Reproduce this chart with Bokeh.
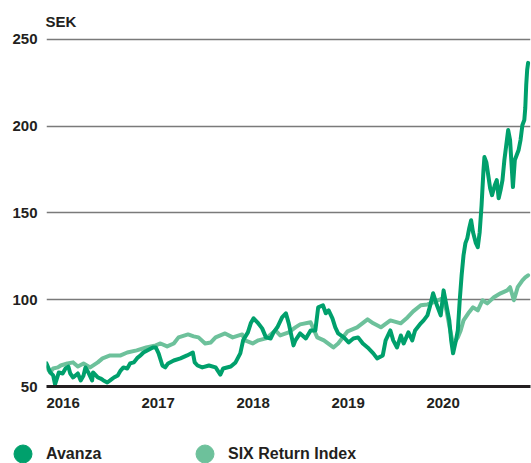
from bokeh.plotting import figure
from bokeh.models import Range1d, FixedTicker, Legend, LegendItem, Title
from bokeh.embed import file_html
from bokeh.resources import INLINE

# ---- data (decimal year, SEK) ----
avanza = [
    (2016.00, 63.3), (2016.04, 58.1), (2016.07, 56.4), (2016.09, 51.2), (2016.13, 58.1),
    (2016.17, 57.5), (2016.20, 60.4), (2016.23, 61.5), (2016.25, 57.5), (2016.28, 55.2),
    (2016.33, 57.5), (2016.36, 53.5), (2016.39, 56.4), (2016.41, 61.0), (2016.44, 58.1),
    (2016.48, 53.5), (2016.49, 58.1), (2016.54, 55.2), (2016.57, 54.6), (2016.60, 53.5),
    (2016.64, 52.3), (2016.67, 53.5), (2016.71, 55.2), (2016.75, 56.4), (2016.78, 59.2),
    (2016.81, 61.0), (2016.85, 60.4), (2016.88, 63.3), (2016.92, 63.9), (2016.96, 66.7),
    (2016.99, 67.9), (2017.02, 69.6), (2017.06, 70.8), (2017.12, 72.5), (2017.15, 72.5),
    (2017.18, 69.1), (2017.22, 62.1), (2017.25, 61.0), (2017.28, 63.3), (2017.34, 65.0),
    (2017.41, 66.2), (2017.48, 67.9), (2017.54, 69.6), (2017.56, 63.9), (2017.59, 62.1),
    (2017.64, 61.0), (2017.71, 62.1), (2017.78, 61.0), (2017.83, 56.9), (2017.86, 60.4),
    (2017.94, 61.5), (2017.99, 63.9), (2018.04, 69.1), (2018.07, 76.6), (2018.12, 81.2),
    (2018.15, 86.4), (2018.18, 89.3), (2018.22, 87.0), (2018.27, 83.5), (2018.31, 78.3),
    (2018.36, 77.7), (2018.39, 81.2), (2018.43, 84.1), (2018.48, 89.8), (2018.52, 92.2),
    (2018.55, 86.4), (2018.60, 73.7), (2018.62, 76.6), (2018.67, 80.6), (2018.73, 77.7),
    (2018.78, 82.3), (2018.83, 82.3), (2018.86, 95.6), (2018.91, 96.8), (2018.94, 92.2),
    (2018.97, 93.9), (2019.01, 89.3), (2019.04, 84.1), (2019.07, 80.6), (2019.13, 78.3),
    (2019.18, 75.4), (2019.23, 77.7), (2019.28, 78.3), (2019.33, 74.8), (2019.38, 72.5),
    (2019.44, 69.1), (2019.48, 66.2), (2019.54, 67.9), (2019.57, 76.6), (2019.62, 82.3),
    (2019.65, 76.6), (2019.69, 72.5), (2019.73, 79.4), (2019.76, 74.8), (2019.81, 81.2),
    (2019.85, 76.6), (2019.88, 82.3), (2019.94, 86.4), (2019.97, 88.1), (2020.01, 91.0),
    (2020.04, 96.8), (2020.07, 103.7), (2020.11, 96.8), (2020.15, 91.0), (2020.18, 105.4),
    (2020.21, 96.8), (2020.24, 88.1), (2020.26, 76.6), (2020.28, 69.1), (2020.31, 76.6),
    (2020.33, 82.3), (2020.35, 99.7), (2020.37, 114.1), (2020.39, 125.6), (2020.41, 132.6),
    (2020.43, 135.5), (2020.45, 141.2), (2020.47, 145.8), (2020.49, 138.9), (2020.52, 132.6),
    (2020.54, 130.3), (2020.56, 138.9), (2020.58, 154.5), (2020.60, 174.7), (2020.61, 182.2),
    (2020.63, 179.3), (2020.65, 171.8), (2020.67, 164.3), (2020.69, 160.3), (2020.72, 166.1),
    (2020.74, 168.9), (2020.76, 158.5), (2020.78, 163.2), (2020.80, 168.9), (2020.82, 180.5),
    (2020.84, 189.2), (2020.86, 197.8), (2020.88, 192.0), (2020.91, 164.9), (2020.93, 180.5),
    (2020.95, 183.4), (2020.97, 186.3), (2020.99, 192.0), (2021.01, 200.7), (2021.03, 203.6),
    (2021.04, 210.5), (2021.05, 223.8), (2021.06, 232.5), (2021.07, 236.5),
]

six_return = [
    (2016.00, 61.0), (2016.04, 58.1), (2016.07, 60.4), (2016.12, 61.0), (2016.15, 62.1),
    (2016.22, 63.3), (2016.28, 63.9), (2016.33, 61.5), (2016.39, 63.3), (2016.46, 61.0),
    (2016.54, 63.9), (2016.59, 66.2), (2016.67, 67.9), (2016.78, 67.9), (2016.85, 69.6),
    (2016.95, 70.8), (2017.05, 72.5), (2017.15, 73.7), (2017.20, 74.8), (2017.27, 73.1),
    (2017.34, 74.8), (2017.39, 78.3), (2017.49, 80.0), (2017.55, 78.9), (2017.60, 78.3),
    (2017.67, 74.8), (2017.73, 75.4), (2017.78, 78.3), (2017.88, 80.6), (2017.96, 78.3),
    (2018.06, 80.0), (2018.09, 76.6), (2018.17, 74.8), (2018.23, 76.6), (2018.31, 77.7),
    (2018.41, 82.3), (2018.46, 79.4), (2018.55, 81.2), (2018.62, 84.1), (2018.67, 85.8),
    (2018.78, 87.0), (2018.85, 78.3), (2018.92, 76.6), (2019.02, 72.5), (2019.07, 74.8),
    (2019.17, 81.8), (2019.27, 84.1), (2019.38, 88.7), (2019.44, 86.4), (2019.52, 84.1),
    (2019.62, 88.1), (2019.73, 86.4), (2019.80, 89.8), (2019.86, 93.3), (2019.94, 96.8),
    (2020.01, 97.3), (2020.07, 98.5), (2020.17, 100.8), (2020.21, 93.9), (2020.25, 82.3),
    (2020.28, 74.2), (2020.31, 76.6), (2020.33, 78.3), (2020.36, 82.3), (2020.39, 88.1),
    (2020.44, 92.2), (2020.49, 95.6), (2020.54, 93.9), (2020.59, 99.7), (2020.64, 97.9),
    (2020.71, 101.4), (2020.78, 103.7), (2020.85, 105.4), (2020.88, 107.2), (2020.92, 99.7),
    (2020.96, 107.2), (2021.01, 111.2), (2021.04, 112.9), (2021.07, 114.1),
]

years = [2016, 2017, 2018, 2019, 2020]
year_labels = ["2016", "2017", "2018", "2019", "2020"]
value_ticks = [50, 100, 150, 200, 250]
grid_ticks = [100, 150, 200, 250]
series_names = ["Avanza", "SIX Return Index"]
unit_label = "SEK"

DARK = "#00a06c"
LIGHT = "#6dc19b"
TXT = "#231f20"
FONT = "Liberation Sans"
LABEL_SHIFT = 0.175  # year labels are set flush-left at the start of each year

p = figure(width=531, height=415, output_backend="svg", toolbar_location=None,
           x_range=Range1d(2016.0, 2021.095), y_range=Range1d(50, 254),
           min_border_left=46, min_border_right=1, min_border_top=32,
           min_border_bottom=29, outline_line_color=None, background_fill_color="white",
           border_fill_color="white")

t = Title(text=unit_label, text_font=FONT, text_font_size="15px", text_font_style="bold",
          text_color=TXT, align="left", standoff=6, offset=-1)
p.add_layout(t, "above")

ax, av = zip(*avanza)
sx, sv = zip(*six_return)
p.line(list(sx), list(sv), line_color=LIGHT, line_width=4, line_join="round", line_cap="round")
p.line(list(ax), list(av), line_color=DARK, line_width=4, line_join="round", line_cap="round")

tick_pos = [y + LABEL_SHIFT for y in years]
xa = p.xaxis[0]
xa.ticker = FixedTicker(ticks=tick_pos)
xa.major_label_overrides = {tp: l for tp, l in zip(tick_pos, year_labels)}
xa.major_tick_line_color = None
xa.major_tick_out = 0
xa.major_tick_in = 0
xa.minor_tick_line_color = None
xa.minor_tick_out = 0
xa.axis_line_color = TXT
xa.axis_line_width = 3
xa.major_label_standoff = 11
xa.major_label_text_font = FONT
xa.major_label_text_font_size = "15px"
xa.major_label_text_font_style = "bold"
xa.major_label_text_color = TXT

ya = p.yaxis[0]
ya.ticker = FixedTicker(ticks=value_ticks)
ya.major_tick_line_color = None
ya.major_tick_out = 0
ya.major_tick_in = 0
ya.minor_tick_line_color = None
ya.minor_tick_out = 0
ya.axis_line_color = None
ya.major_label_standoff = 9
ya.major_label_text_font = FONT
ya.major_label_text_font_size = "15px"
ya.major_label_text_font_style = "bold"
ya.major_label_text_color = TXT

p.xgrid.visible = False
p.ygrid.ticker = FixedTicker(ticks=grid_ticks)
p.ygrid.grid_line_color = "#7a7a7a"
p.ygrid.grid_line_width = 1.6

# ---- legend strip below the chart (separate root so its frame spans the full width) ----
lg = figure(width=531, height=48, output_backend="svg", toolbar_location=None,
            x_axis_location=None, y_axis_location=None, min_border=0,
            outline_line_color=None, x_range=Range1d(0, 1), y_range=Range1d(0, 1))
lg.grid.visible = False
# legend-key renderers: one off-range point each (never visible), used only for the key glyph
r1 = lg.scatter(x=[-5], y=[-5], size=18, color=DARK)
r2 = lg.scatter(x=[-5], y=[-5], size=18, color=LIGHT)
legend = Legend(items=[LegendItem(label=series_names[0], renderers=[r1], index=0),
                       LegendItem(label=series_names[1], renderers=[r2], index=0)],
                orientation="horizontal", location=(0, -13),
                glyph_width=45, glyph_height=45, label_standoff=1, label_width=136,
                spacing=0, padding=0, margin=0, border_line_color=None,
                background_fill_alpha=0, label_text_font=FONT, label_text_font_size="16px",
                label_text_font_style="bold", label_text_color=TXT)
lg.add_layout(legend, "center")

open("out.html", "w").write(file_html([p, lg], INLINE))
